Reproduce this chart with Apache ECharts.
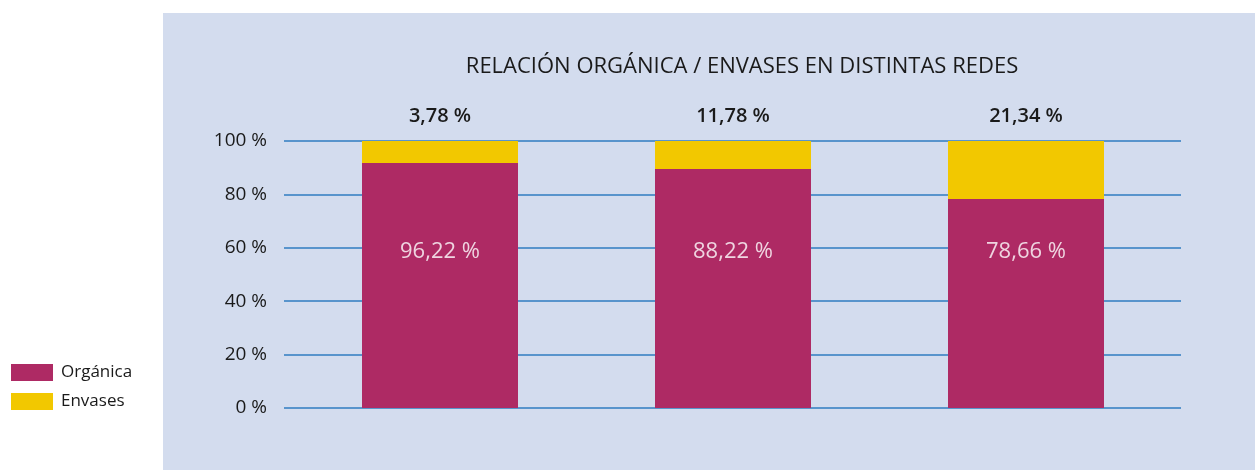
<!DOCTYPE html>
<html><head><meta charset="utf-8">
<script src="https://cdn.jsdelivr.net/npm/echarts@6/dist/echarts.min.js"></script>
<style>html,body{margin:0;padding:0;background:#fff}#c{width:1255px;height:470px}</style>
</head><body><div id="c"></div>
<script>
const title = 'RELACIÓN ORGÁNICA / ENVASES EN DISTINTAS REDES';
const categories = ['Red 1', 'Red 2', 'Red 3'];
// bar heights as drawn in the picture (percent)
const organica = [91.8, 89.5, 78.3];
const envases = [8.2, 10.5, 21.7];
// printed labels
const organicaLabels = ['96,22 %', '88,22 %', '78,66 %'];
const envasesLabels = ['3,78 %', '11,78 %', '21,34 %'];
const yTicks = [0, 20, 40, 60, 80, 100];

const FONT = 'Open Sans';
const chart = echarts.init(document.getElementById('c'), null, {renderer: 'canvas'});
const gridTop = 141, gridBottom = 470 - 408;
chart.setOption({
  animation: false,
  backgroundColor: '#fff',
  textStyle: {fontFamily: FONT},
  title: {text: title, left: 737, textAlign: 'center', top: 51,
    textStyle: {fontFamily: FONT, fontSize: 22, fontWeight: 'normal', color: '#1a1a1a'}},
  graphic: [{type: 'rect', z: -10, silent: true,
    shape: {x: 163, y: 13, width: 1255 - 163, height: 470 - 13},
    style: {fill: '#D3DCEE'}}],
  legend: {orient: 'vertical', left: 11, top: 364, padding: 0, itemWidth: 42, itemHeight: 17, itemGap: 12,
    textStyle: {fontFamily: FONT, fontSize: 17, color: '#1a1a1a', padding: [0, 0, 0, 3]},
    data: [{name: 'Orgánica', icon: 'rect'}, {name: 'Envases', icon: 'rect'}]},
  grid: [
    {left: 284, right: 1255 - 1181, top: gridTop, bottom: gridBottom},
    {left: 293.5, right: 1255 - 1172.5, top: gridTop, bottom: gridBottom}
  ],
  xAxis: [
    {type: 'category', gridIndex: 0, data: categories, show: false},
    {type: 'category', gridIndex: 1, data: categories, show: false}
  ],
  yAxis: [
    {type: 'value', gridIndex: 0, min: 0, max: 100, interval: 20,
      axisLine: {show: false}, axisTick: {show: false},
      axisLabel: {margin: 17, fontFamily: FONT, fontSize: 19, color: '#1a1a1a',
        formatter: v => yTicks.includes(v) ? v + ' %' : ''},
      splitLine: {lineStyle: {color: '#2F7CC0', width: 1.5}}},
    {type: 'value', gridIndex: 1, min: 0, max: 100, interval: 20, show: false, splitLine: {show: false}}
  ],
  series: [
    {name: 'Orgánica', type: 'bar', stack: 's', xAxisIndex: 1, yAxisIndex: 1, barWidth: 156,
      itemStyle: {color: '#AE2A64'}, data: organica, z: 3},
    {name: 'Envases', type: 'bar', stack: 's', xAxisIndex: 1, yAxisIndex: 1, barWidth: 156,
      itemStyle: {color: '#F2C800'}, data: envases, z: 3,
      label: {show: true, position: 'top', distance: 15, fontFamily: FONT, fontSize: 20,
        fontWeight: 600, color: '#1a1a1a', formatter: p => envasesLabels[p.dataIndex]}},
    {type: 'scatter', xAxisIndex: 1, yAxisIndex: 1, symbolSize: 0, z: 5, silent: true,
      data: categories.map(() => 58.4),
      label: {show: true, position: 'inside', fontFamily: FONT, fontSize: 22, color: '#ffffff',
        formatter: p => organicaLabels[p.dataIndex]}}
  ]
});
</script></body></html>
